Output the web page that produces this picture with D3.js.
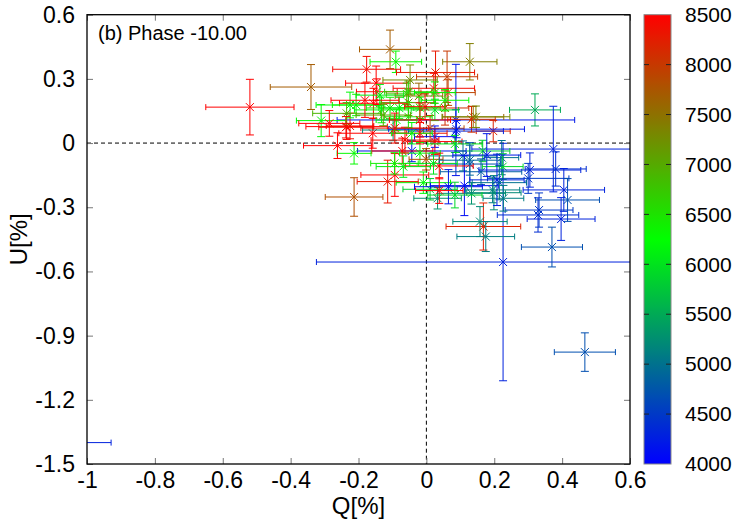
<!DOCTYPE html>
<html><head><meta charset="utf-8">
<script src="https://cdn.jsdelivr.net/npm/d3@7"></script>
<style>
body{margin:0;background:#fff;}
text{font-family:"Liberation Sans",Arial,sans-serif;fill:#000;}
</style></head>
<body><svg id="c" width="747" height="523"></svg>
<script>
// ---- data ----
const Q  = [-0.52,-0.34,-0.213,0.467,0.226,-1.6,0.37,0.32,0.374,
  -0.107,-0.09,-0.176,-0.148,0.128,0.027,0.061,0.022,-0.022,-0.058,0.055,0.087,0.138,0.197,0.087,0.025,0.025,0.084,0.108,0.166,0.222,0.225,0.128,0.161,0.305,0.381,0.30,0.405,0.416,0.332,0.329,0.397,0.168,0.158,0.175,0.033,0.011,-0.009,0.065,0.112,0.133,0.195,0.199,0.227,0.215,-0.093,-0.114,-0.043,-0.071,-0.019,0.038,-0.094,-0.068,-0.213,-0.158,-0.235,-0.225,-0.098,-0.063,-0.019,0.011,-0.156,-0.225,-0.207,-0.132,-0.107,-0.08,-0.053,-0.019,0.025,-0.053,-0.088,-0.127,-0.235,-0.146,-0.053,-0.004,-0.043,-0.31,-0.286,-0.237,-0.262,0.064,0.025,0.133,0.146,0.089,-0.001,0.021,0.038,
  0.178,0.208,0.128,0.084,-0.019,-0.093,0.055,-0.048,-0.181,-0.137];
const U  = [0.168,0.262,-0.252,-0.977,-0.556,-1.40,-0.486,0.155,-0.028,
  0.438,0.38,0.345,0.28,0.38,0.33,0.31,0.256,0.22,0.23,0.164,0.108,0.122,0.056,0.056,0.03,0.007,-0.004,-0.06,-0.037,-0.068,-0.11,-0.098,-0.134,-0.126,-0.121,-0.165,-0.219,-0.266,-0.313,-0.336,-0.355,-0.39,-0.367,-0.437,-0.258,-0.216,-0.185,-0.204,-0.199,-0.235,-0.219,-0.232,-0.258,-0.185,-0.149,-0.18,-0.037,-0.037,-0.047,-0.107,-0.095,-0.11,-0.048,0.046,0.077,0.08,0.061,0.014,0.046,0.069,0.186,0.178,0.178,0.155,0.164,0.164,0.189,0.165,0.155,0.123,0.108,0.131,0.139,0.24,0.24,0.17,0.046,0.105,0.092,0.074,-0.012,0.236,0.236,0.111,0.123,0.065,-0.076,-0.095,-0.222,
  -0.056,-0.172,-0.08,-0.243,0.108,0.07,0.2,0.295,0.2,0.224];
const DQ = [0.13,0.12,0.085,0.09,0.55,0.671,0.09,0.075,0.24,
  0.09,0.076,0.1,0.09,0.08,0.115,0.09,0.12,0.07,0.06,0.07,0.35,0.09,0.05,0.14,0.06,0.08,0.08,0.1,0.08,0.05,0.06,0.09,0.12,0.15,0.09,0.12,0.12,0.094,0.1,0.12,0.1,0.11,0.08,0.085,0.07,0.08,0.08,0.1,0.1,0.1,0.08,0.08,0.06,0.08,0.1,0.09,0.16,0.09,0.06,0.1,0.07,0.08,0.05,0.1,0.12,0.07,0.09,0.1,0.08,0.1,0.1,0.1,0.07,0.08,0.07,0.06,0.08,0.06,0.07,0.07,0.06,0.08,0.1,0.06,0.07,0.06,0.06,0.073,0.09,0.08,0.1,0.08,0.06,0.07,0.1,0.2,0.05,0.07,0.07,
  0.1,0.08,0.09,0.08,0.09,0.1,0.07,0.08,0.1,0.07];
const DU = [0.13,0.105,0.09,0.09,0.555,0.05,0.093,0.075,0.2,
  0.09,0.05,0.06,0.08,0.085,0.1,0.12,0.07,0.06,0.05,0.08,0.26,0.05,0.05,0.1,0.05,0.06,0.04,0.07,0.05,0.08,0.06,0.1,0.06,0.08,0.08,0.07,0.1,0.1,0.08,0.08,0.1,0.11,0.07,0.07,0.05,0.05,0.05,0.08,0.14,0.05,0.06,0.08,0.06,0.08,0.1,0.1,0.05,0.06,0.05,0.06,0.05,0.05,0.05,0.07,0.06,0.06,0.05,0.06,0.05,0.06,0.07,0.06,0.05,0.06,0.05,0.05,0.06,0.05,0.05,0.05,0.05,0.05,0.05,0.06,0.05,0.06,0.05,0.075,0.06,0.05,0.06,0.06,0.05,0.06,0.05,0.04,0.05,0.05,0.06,
  0.1,0.12,0.07,0.06,0.08,0.07,0.05,0.07,0.08,0.05];
const WL = [8500,7700,7800,4700,4300,4300,4700,5500,4300,
  7700,6300,8400,8500,7400,8300,8000,8400,7600,6800,8100,4200,7600,8200,4300,4100,8500,6100,5000,5800,5000,5900,4700,4800,4300,4400,4500,4300,4700,4500,4400,4300,8200,5200,5100,5300,5800,6200,4200,4100,5300,5100,5200,5100,5000,8500,8300,4200,8500,6200,8500,6400,6100,6300,8500,8500,8400,5200,8400,8300,7900,8500,6200,6300,6200,6400,6100,7200,6300,6000,6500,6300,7100,6900,8500,6600,8400,6200,6200,8500,8400,8500,7900,6200,8100,7300,4200,7800,6000,8500,
  4200,4300,4900,5900,8500,8400,6300,7300,8500,6100];
const xTicks = [-1,-0.8,-0.6,-0.4,-0.2,0,0.2,0.4,0.6];
const yTicks = [-1.5,-1.2,-0.9,-0.6,-0.3,0,0.3,0.6];
const cbTicks = [4000,4500,5000,5500,6000,6500,7000,7500,8000,8500];
const paletteStops = [4000,6250,8500];
const paletteColors = ["#0000ff","#00ff00","#ff0000"];

// ---- layout ----
const L=87,R=630,T=14.7,B=464;
const svg=d3.select("#c");
const x=d3.scaleLinear().domain([-1,0.6]).range([L,R]);
const y=d3.scaleLinear().domain([-1.5,0.6]).range([B,T]);
const col=d3.scaleLinear().domain(paletteStops).range(paletteColors);
const fmt=d=>String(+d.toFixed(2));

svg.append("clipPath").attr("id","clip").append("rect")
  .attr("x",L).attr("y",T).attr("width",R-L).attr("height",B-T);

// zero lines
const zg=svg.append("g").attr("clip-path","url(#clip)");
zg.append("line").attr("x1",x(0)).attr("x2",x(0)).attr("y1",T).attr("y2",B)
  .attr("stroke","#000").attr("stroke-dasharray","4,3");
zg.append("line").attr("x1",L).attr("x2",R).attr("y1",y(0)).attr("y2",y(0))
  .attr("stroke","#000").attr("stroke-dasharray","4,3");

// data
const pts=Q.map((q,i)=>({q,u:U[i],dq:DQ[i],du:DU[i],w:WL[i]}));
const dg=svg.append("g").attr("clip-path","url(#clip)").attr("fill","none").attr("stroke-width",1);
const cx=3,cy=4,m=4;
pts.forEach(p=>{
  const g=dg.append("g").attr("stroke",col(p.w));
  const px=x(p.q),py=y(p.u),x0=x(p.q-p.dq),x1=x(p.q+p.dq),y0=y(p.u-p.du),y1=y(p.u+p.du);
  const path=`M${x0},${py}H${x1}M${x0},${py-cx}V${py+cx}M${x1},${py-cx}V${py+cx}`+
    `M${px},${y0}V${y1}M${px-cy},${y0}H${px+cy}M${px-cy},${y1}H${px+cy}`+
    `M${px-m},${py-m}L${px+m},${py+m}M${px-m},${py+m}L${px+m},${py-m}`;
  g.append("path").attr("d",path);
});

// axes
function styleAxis(g){g.select(".domain").remove();g.selectAll(".tick line").attr("stroke","#777");g.selectAll("text").style("font-size","23px");}
svg.append("g").attr("transform",`translate(0,${B})`)
  .call(d3.axisBottom(x).tickValues(xTicks).tickFormat(fmt).tickSizeInner(-6).tickSizeOuter(0).tickPadding(8)).call(styleAxis);
svg.append("g").attr("transform",`translate(${L},0)`)
  .call(d3.axisLeft(y).tickValues(yTicks).tickFormat(fmt).tickSizeInner(-6).tickSizeOuter(0).tickPadding(12)).call(styleAxis);
svg.append("g").attr("transform",`translate(0,${T})`)
  .call(d3.axisTop(x).tickValues(xTicks).tickFormat("").tickSizeInner(-6).tickSizeOuter(0)).call(styleAxis);
svg.append("g").attr("transform",`translate(${R},0)`)
  .call(d3.axisRight(y).tickValues(yTicks).tickFormat("").tickSizeInner(-6).tickSizeOuter(0)).call(styleAxis);
svg.selectAll(".tick text").attr("font-family",null);

svg.append("rect").attr("x",L).attr("y",T).attr("width",R-L).attr("height",B-T)
  .attr("fill","none").attr("stroke","#000").attr("stroke-width",1.3);

// colorbar
const CL=644,CR=671;
const cb=d3.scaleLinear().domain([4000,8500]).range([B,T]);
const grad=svg.append("defs").append("linearGradient").attr("id","pal")
  .attr("x1",0).attr("y1",1).attr("x2",0).attr("y2",0);
d3.range(0,101).forEach(k=>{const v=4000+4500*k/100;
  grad.append("stop").attr("offset",k+"%").attr("stop-color",col(v));});
svg.append("rect").attr("x",CL).attr("y",T).attr("width",CR-CL).attr("height",B-T)
  .attr("fill","url(#pal)").attr("stroke","#888").attr("stroke-width",1);
const cbg=svg.append("g").attr("transform",`translate(${CR},0)`)
  .call(d3.axisRight(cb).tickValues(cbTicks).tickFormat(d3.format("d")).tickSizeInner(0).tickSizeOuter(0).tickPadding(14));
cbg.select(".domain").remove();
cbg.selectAll("text").attr("font-family",null).style("font-size","21px");
cbTicks.slice(1,-1).forEach(v=>{
  svg.append("line").attr("x1",CL).attr("x2",CL+5).attr("y1",cb(v)).attr("y2",cb(v)).attr("stroke","#222");
  svg.append("line").attr("x1",CR-5).attr("x2",CR).attr("y1",cb(v)).attr("y2",cb(v)).attr("stroke","#222");
});

// labels
svg.append("text").attr("x",98).attr("y",40).style("font-size","20px").text("(b) Phase -10.00");
svg.append("text").attr("x",(L+R)/2).attr("y",514).attr("text-anchor","middle").style("font-size","24px").text("Q[%]");
svg.append("text").attr("transform",`translate(27,${(T+B)/2}) rotate(-90)`).attr("text-anchor","middle").style("font-size","24px").text("U[%]");
</script></body></html>
